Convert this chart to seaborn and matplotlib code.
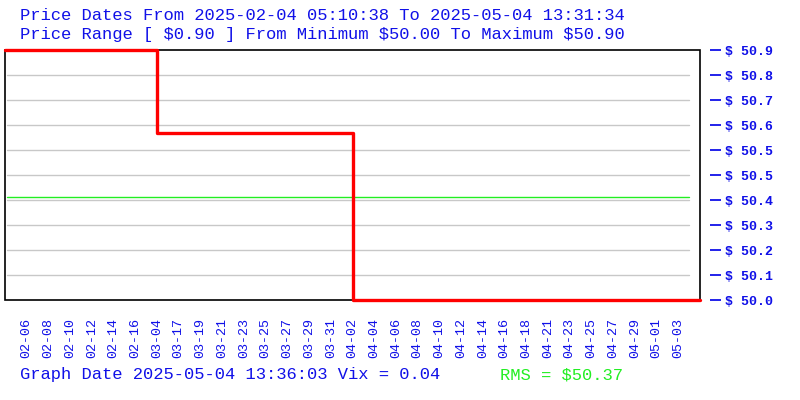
import numpy as np
import pandas as pd
import matplotlib
matplotlib.use("Agg")
import matplotlib.pyplot as plt
from matplotlib.patches import Rectangle
import seaborn as sns

# labels under the x axis, one per sample point
dates = ["02-06", "02-08", "02-10", "02-12", "02-14", "02-16", "03-04",
         "03-17", "03-19", "03-21", "03-23", "03-25", "03-27", "03-29",
         "03-31", "04-02", "04-04", "04-06", "04-08", "04-10", "04-12",
         "04-14", "04-16", "04-18", "04-21", "04-23", "04-25", "04-27",
         "04-29", "05-01", "05-03"]
prices = [50.90, 50.90, 50.90, 50.90, 50.90, 50.90, 50.60,
          50.60, 50.60, 50.60, 50.60, 50.60, 50.60, 50.60,
          50.60, 50.00, 50.00, 50.00, 50.00, 50.00, 50.00,
          50.00, 50.00, 50.00, 50.00, 50.00, 50.00, 50.00,
          50.00, 50.00, 50.00]
y_min = 50.00
y_max = 50.90
y_tick_labels = ["$ 50.0", "$ 50.1", "$ 50.2", "$ 50.3", "$ 50.4", "$ 50.5",
                 "$ 50.5", "$ 50.6", "$ 50.7", "$ 50.8", "$ 50.9"]
rms = 50.37

title_1 = "Price Dates From 2025-02-04 05:10:38 To 2025-05-04 13:31:34"
title_2 = "Price Range [ $0.90 ] From Minimum $50.00 To Maximum $50.90"
footer = "Graph Date 2025-05-04 13:36:03 Vix = 0.04"
rms_text = "RMS = $50.37"

BLUE = "#1010e8"
GREEN = "#22ee22"
MONO = ["Liberation Mono", "DejaVu Sans Mono"]

sns.set_style("white")
plt.rcParams["font.family"] = MONO

n = len(dates)
# carry the first and last price out to the plot edges
df = pd.DataFrame({
    "pos": [-1] + list(range(n)) + [n],
    "price": [prices[0]] + prices + [prices[-1]],
})

fig = plt.figure(figsize=(8, 4), dpi=100)
ax = fig.add_axes([5 / 800, 0.25, 695 / 800, 0.625])

y_ticks = np.linspace(y_min, y_max, len(y_tick_labels))
for t in y_ticks[1:-1]:
    ax.axhline(t, xmin=0.003, xmax=0.984, color="#c8c8c8", lw=1, zorder=1)
ax.axhline(rms, xmin=0.003, xmax=0.984, color=GREEN, lw=1, zorder=2)

sns.lineplot(data=df, x="pos", y="price", ax=ax, color="red", lw=2.4,
             drawstyle="steps-post", clip_on=False, zorder=4)

ax.set_xlim(-1, n)
ax.set_ylim(y_min, y_max)
ax.set_xlabel("")
ax.set_ylabel("")

ax.set_xticks(range(n))
ax.set_xticklabels(dates, rotation=90, color=BLUE, fontsize=9.6)
ax.tick_params(axis="x", length=0, pad=13)

ax.yaxis.tick_right()
ax.set_yticks(y_ticks)
ax.tick_params(axis="y", which="both", right=True, left=False, direction="out",
               length=8, width=1.3, color=BLUE, pad=3)
ax.spines["right"].set_position(("outward", 7))
ax.set_yticklabels(y_tick_labels)
for lbl in ax.yaxis.get_majorticklabels():
    lbl.set_color(BLUE)
    lbl.set_fontsize(9.5)
    lbl.set_fontweight("bold")
for s in ax.spines.values():
    s.set_visible(False)
ax.add_patch(Rectangle((0, 0), 1, 1, transform=ax.transAxes, fill=False,
                       ec="black", lw=1.2, clip_on=False, zorder=3))

fig.text(20 / 800, 1 - 15 / 400, title_1, color=BLUE, fontsize=12.3, va="center")
fig.text(20 / 800, 1 - 35 / 400, title_2, color=BLUE, fontsize=12.3, va="center")
fig.text(20 / 800, 1 - 375 / 400, footer, color=BLUE, fontsize=12.3, va="center")
fig.text(500 / 800, 1 - 375 / 400, rms_text, color=GREEN, fontsize=12.3, va="center")

fig.savefig("out.png", dpi=100)
